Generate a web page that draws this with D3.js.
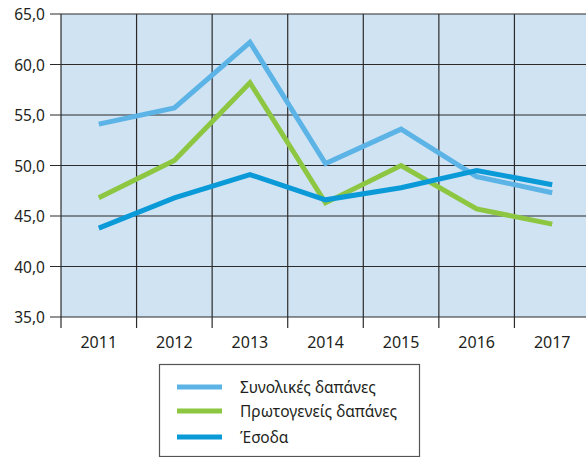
<!DOCTYPE html>
<html>
<head>
<meta charset="utf-8">
<script src="https://cdn.jsdelivr.net/npm/d3@7"></script>
<style>
body { margin: 0; background: #fff; }
text { font-family: "Noto Sans", sans-serif; fill: #231f20; }
</style>
</head>
<body>
<script>
var years = ["2011","2012","2013","2014","2015","2016","2017"]
var synolikes = [54.1, 55.7, 62.2, 50.2, 53.6, 48.9, 47.3]
var protogeneis = [46.8, 50.5, 58.2, 46.3, 50.0, 45.7, 44.2]
var esoda = [43.8, 46.8, 49.1, 46.6, 47.8, 49.5, 48.1]
var yTicks = [35, 40, 45, 50, 55, 60, 65]
var seriesNames = ["Συνολικές δαπάνες", "Πρωτογενείς δαπάνες", "Έσοδα"]
var colors = ["#5cb3e5", "#8dc640", "#0b9ad8"]

var w = 586, h = 457
var svg = d3.select("body").append("svg").attr("width", w).attr("height", h)

var x = d3.scaleBand().domain(years).range([61, 590])
var y = d3.scaleLinear().domain([35, 65]).range([317, 14])

// background
svg.append("rect")
.attr("x", 61).attr("y", 14)
.attr("width", 590-61).attr("height", 317-14)
.attr("fill", "#cfe3f3")

// horizontal grid + ticks
svg.selectAll(".hg").data(yTicks).enter().append("line")
.attr("x1", 50).attr("x2", 590)
.attr("y1", function(d){ return y(d) }).attr("y2", function(d){ return y(d) })
.attr("stroke", "#2b2b2b").attr("stroke-width", 1.2)

// vertical grid (band boundaries)
var bounds = years.map(function(d){ return x(d) })
svg.selectAll(".vg").data(bounds).enter().append("line")
.attr("x1", function(d){ return d }).attr("x2", function(d){ return d })
.attr("y1", 14).attr("y2", 328)
.attr("stroke", "#2b2b2b").attr("stroke-width", 1.2)

// y labels
svg.selectAll(".yl").data(yTicks).enter().append("text")
.attr("x", 45).attr("y", function(d){ return y(d) })
.attr("text-anchor", "end")
.attr("dominant-baseline", "central")
.style("font-size", "15.5px")
.text(function(d){ return d3.format(".1f")(d).replace(".", ",") })

// x labels
svg.selectAll(".xl").data(years).enter().append("text")
.attr("x", function(d){ return x(d) + x.bandwidth()/2 })
.attr("y", 342)
.attr("text-anchor", "middle")
.attr("dominant-baseline", "central")
.style("font-size", "16px")
.text(function(d){ return d })

// lines
var line = d3.line()
.x(function(d, i){ return x(years[i]) + x.bandwidth()/2 })
.y(function(d){ return y(d) })
var allSeries = [synolikes, protogeneis, esoda]
allSeries.forEach(function(s, k){
svg.append("path")
.attr("d", line(s))
.attr("fill", "none")
.attr("stroke", colors[k])
.attr("stroke-width", 5)
.attr("stroke-linejoin", "miter")
})

// legend
svg.append("rect")
.attr("x", 159.5).attr("y", 364.5)
.attr("width", 260).attr("height", 92)
.attr("fill", "#fff").attr("stroke", "#555").attr("stroke-width", 1.2)
var legY = [387, 411, 437]
seriesNames.forEach(function(n, k){
svg.append("line")
.attr("x1", 177).attr("x2", 222)
.attr("y1", legY[k]).attr("y2", legY[k])
.attr("stroke", colors[k]).attr("stroke-width", 5)
svg.append("text")
.attr("x", 240).attr("y", legY[k])
.attr("dominant-baseline", "central")
.style("font-size", "15.5px")
.text(n)
})
</script>
</body>
</html>
